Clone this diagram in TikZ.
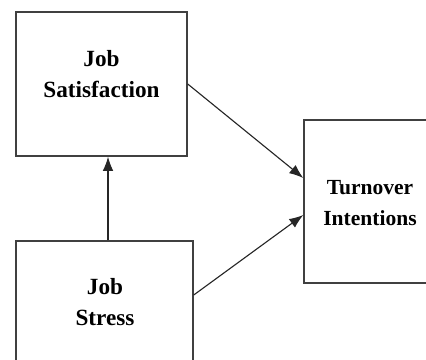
\documentclass[tikz,border=0pt]{standalone}
\usepackage{fontspec}
\setmainfont{Liberation Serif}
\usetikzlibrary{arrows.meta,calc}

\begin{document}
\begin{tikzpicture}[x=0.025cm, y=-0.025cm,
  box/.style={rectangle, draw=black!75, line width=1pt},
  lbl/.style={align=center, font=\bfseries\fontsize{16.5}{21.5}\selectfont},
  link/.style={draw=black!85, line width=0.8pt, -{Latex[length=10pt, width=7.5pt]}}]
  \clip (0, 0) rectangle (426, 360);

  \node (sat) [box, minimum width=4.275cm, minimum height=3.6cm] at (101.5, 84) {};
  \node (stress) [box, minimum width=4.425cm, minimum height=3.75cm] at (104.5, 316) {};
  \node (turn) [box, minimum width=3.275cm, minimum height=4.075cm] at (369.5, 201.5) {};

  \node (satlbl) [lbl] at (101.5, 74) {Job\\Satisfaction};
  \node (stresslbl) [lbl] at (105, 302) {Job\\Stress};
  \node (turnlbl) [lbl, font=\bfseries\fontsize{15.3}{21.5}\selectfont] at (370, 203) {Turnover\\Intentions};

  \draw[link] ([xshift=2.5pt]stress.north) -- ([xshift=2.5pt]stress.north |- sat.south);
  \draw[link] (sat.east) -- ($(turn.west)+(0, -23.5)$);
  \draw[link] ($(stress.east)+(0, -21)$) -- ($(turn.west)+(0, 13.5)$);
\end{tikzpicture}
\end{document}
